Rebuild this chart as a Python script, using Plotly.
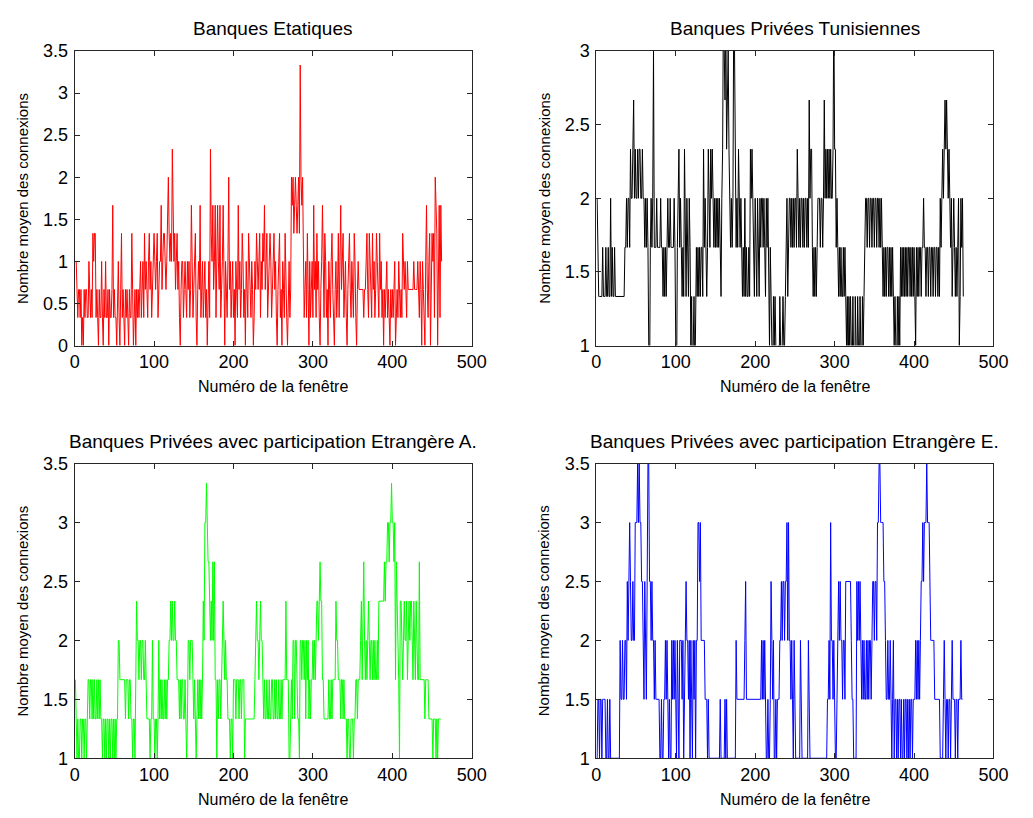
import plotly.graph_objects as go

# ---------------- data ----------------
# Banques Etatiques: mean number of connections, stored in thirds (value = n/3)
red_thirds = [
    3,3,2,1,2,2,1,2,0,1, 0,2,1,2,2,1,1,3,2,1, 2,1,4,3,4,4,1,2,1,0, 2,1,1,3,1,0,2,1,3,1,
    1,2,0,2,1,1,2,5,1,2, 1,1,0,2,3,1,0,2,4,1, 2,1,0,2,1,2,1,0,2,1, 1,4,2,0,1,2,0,2,1,2,
    1,2,3,1,2,3,1,4,2,3, 2,1,3,4,2,3,1,2,3,4, 3,2,3,4,1,2,3,3,5,2, 3,4,4,3,2,3,5,6,4,3,
    4,3,7,4,3,4,2,3,4,2, 3,1,0,2,3,3,1,2,3,2, 1,3,2,3,1,2,5,3,1,2, 3,4,1,0,2,3,2,5,1,2,
    3,1,2,3,1,2,0,2,3,1, 7,4,3,5,2,3,5,1,3,5, 3,2,5,1,2,3,5,2,0,3, 2,1,3,6,2,3,1,2,3,1,
    2,0,3,2,1,5,2,3,1,2, 4,3,1,2,0,3,2,1,4,3, 2,1,3,2,0,1,3,2,4,3, 2,3,4,1,3,2,4,3,5,2,
    3,4,1,2,3,4,3,1,2,3, 4,2,3,1,0,2,3,4,1,2, 0,3,2,1,4,2,1,0,2,3, 1,2,6,5,6,4,5,6,5,4,
    5,6,4,10,6,5,6,4,1,2, 3,1,4,2,0,3,1,2,3,1, 5,2,3,1,4,2,3,1,0,2, 3,5,2,1,4,3,1,2,0,3,
    2,1,3,4,2,1,0,2,3,1, 2,4,1,3,5,2,3,4,1,2, 3,1,0,2,3,4,2,1,3,2, 1,4,3,1,0,2,3,2,2,2,
    2,2,2,1,2,2,3,4,2,1, 4,3,2,1,4,2,3,1,2,4, 3,2,1,4,2,3,1,2,0,2, 1,2,3,1,2,1,0,2,1,2,
    1,2,3,0,1,2,1,3,2,1, 2,1,4,3,2,3,2,1,3,2, 2,2,2,2,2,2,3,2,2,2, 2,3,2,1,3,2,0,3,2,1,
    0,3,5,2,1,3,4,0,2,4, 3,4,1,6,5,4,0,3,5,1, 5,3,
]

# Banques Privées Tunisiennes (thirds)
black_thirds = [
    6,5,4,4,4,4,4,5,4,4, 4,5,4,4,5,4,4,6,4,5, 4,4,5,4,4,4,4,4,4,4, 4,4,4,4,4,5,5,6,5,6,
    6,5,7,6,6,7,8,6,7,6, 6,7,6,7,7,6,6,7,6,6, 5,6,5,6,5,3,2,5,6,5, 6,9,5,5,5,6,5,5,5,5,
    6,5,5,4,5,4,5,4,5,6, 5,5,6,5,5,5,5,6,5,3, 2,5,6,7,5,6,5,4,5,4, 7,5,4,6,5,4,6,5,3,4,
    2,3,4,2,4,5,4,5,4,5, 4,5,5,4,7,5,6,5,4,5, 7,6,5,7,6,7,6,5,6,5, 6,5,6,5,6,5,4,6,7,10,
    9,8,10,7,8,9,7,6,5,6, 5,6,10,9,6,5,6,5,7,6, 5,6,5,4,5,4,6,4,5,4, 4,5,4,7,6,7,6,5,4,6,
    5,4,6,5,4,6,5,6,6,5, 6,5,4,6,5,6,4,3,5,4, 3,2,4,3,4,3,2,1,3,2,
    4,3,2,3,4,3,3,4,5,6, 4,5,6,6,5,6,5,6,5,6, 6,5,7,6,5,6,5,6,6,5, 6,5,6,6,5,6,5,8,6,7,
    7,5,4,5,4,5,4,5,6,6, 6,5,6,6,5,6,8,6,7,6, 7,6,7,6,7,6,6,7,10,7,
    7,5,6,5,4,5,4,5,4,4, 5,4,5,4,3,4,2,4,3,4, 3,2,4,3,1,4,3,2,4,3, 2,4,3,2,4,3,4,5,6,6,
    5,6,6,5,6,6,5,6,6,5, 6,6,5,6,6,5,6,5,6,5, 4,5,4,5,4,5,5,4,5,4,
    5,4,5,4,3,4,3,2,4,3, 4,3,5,4,5,4,5,4,5,4, 5,4,5,5,4,5,4,5,4,5, 4,3,5,4,5,4,5,5,4,5,
    5,6,5,5,4,5,5,4,5,5, 4,5,5,4,5,5,4,5,5,4, 5,4,6,5,6,7,6,7,8,7, 8,7,6,7,6,5,6,4,5,6,
    5,4,5,4,5,6,3,4,6,5, 6,4,
]

# Banques Privées avec participation Etrangère A. (thirds)
green_thirds = [
    5,4,3,4,3,3,4, 4,3,4,4,3,4,4,3,4, 5,5,4,5,5, 4,5,4,5,4,4,5,4,5,4,5,4,
    4,3,4,4,3,4,3,4,4,3,4,3,4,4,3,4,3,4,3,4, 4,6,6, 5,5,5,5,5,5,5,4,5,5,5,4,5,5,
    4,4,3,4,4,3, 5,7, 6,6,5,6,6,5,6,6,5,5,6,5, 4,4,4,4,3,4,4, 6, 4,4,3,4,4,3,4, 6,
    4,5,4,5,4,4,5,4,5,4,5,5, 6,6,7,6,7,6,6,7,6,6,5, 5,5,4,5,4,5,5,4,4,5,4,3,4,
    6,6,5,6,6,6,5, 4,5,4,3,4,5,4,5,4,5,4,5, 7,6,9, 9,10,9,8, 8,7,6,7,6,8,6,8,
    5,5,3,5,4,5,5,4,5, 6,7,6,5,6,5,5, 4,4,4,3,4,4,3,5, 5,5,4,5,5,5,4,5,5,4,5,5,5,3,
    4,4,4,4,4,4,4,4,4,4,4,4, 5,6,7,6,6,5,6,7,6,6,5,
    4,5,4,4,5,4,4,5,4,4,5,5,4,4,5,4,5,4,4,5,4,4,5,4,5,5,5, 5,7, 5,5,5,3,3,4,5,4,
    6,6,4,6,6,5,4,4,3,6, 6,5,6,6,5,6,4,6,5,6,4,5,4,5,5,6, 5,6,5,6,7, 7,6,7,8,7,7,
    5,5,4,4,4,4,4,4,5,4,4,5,4,5,5,5,5, 7,6,6,5, 5,5,4,5,5,4,5,4,4,
    4,3,4,4,3,3,4,4,4,3,4,4, 5,5,4,5,5,5,6, 7,5,7,8,6, 5,6,5,6,7,6,5,6,6,5,6,5,6,5,5,6,
    5,7,7,7,7,7,7,7,8,7,8, 8,9,9,8,9,9, 10,9, 9,8,9,5,8,7,6,5, 3,
    7,7,6,5,6,7,6,6,7,5,6,7,6,7,7,6,5,7,6,5,7,6,5,5,8, 5,5,5,5,5,5,4,5,5,5,5,4,
    4,4,4,4,3,4,4,4,3,4, 3,4,4,4,4,
]

# Banques Privées avec participation Etrangère E. (halves: value = n/2)
blue_halves = [
    2,3,3,2,3,3,2,3,3,3,3, 2,2,3,2,2,3,2, 2,2,2,2,2,2,2,2,2,2,2, 4,3,3,4,3, 3,4,4,3,
    5,4,5,6,5,4, 4,5,4,4, 6,6,6,7,6,7,6,6,5, 5,4,3,5,4,3, 5,7,7,5, 5,4,5,4,4,3,4,
    3,3,3,3,3,2, 2,3,2,2,3,3,4, 3,4,3,2,3,2,2, 4,3,4,3,4,3,2,4,3,2,4, 4,4,3,4,2,3,4,5,
    4,4,3,4,2,4,3,2,4,3,4,2,4,4, 6,6,5,6,4,4, 4,4,4,3,3, 3,2,3,2,2,
    2,2,2,2,2,2,2,2,2,2,2,2, 3,2, 2,2,2,2,3,2, 3,2,2, 2,2,2,2,2,2,2,2,2, 4,3,3,3,
    3,3,3,3,3,3,3,4,5, 3,3,3,3,3,3,3,3,3,3,3,3,3,3,3,3,3,3,3, 4,3,4,3,4,3, 2,2,3,2,2,3,
    5, 4,3,4,2,2,3,2,3,3, 3,4,4,5,4,5,5,4,5,5,6,4,6, 4,4,3,4,3,2,4,3,2, 2,2,2,2,2,4,3,2,
    2,2,2,2,2,2,2,4,3,2, 2,2,2,2,2,2,2,2,2,2,2,2,2,2,2,2,2,2,2,2,2,
    3,3,4,3,6,4,4, 3,4,3,2,2,3,4,5, 4,5,4,4,3,4,4,3, 5,5,5,5,5,5,5,4, 3,3,2,2,2,2,
    5,4,5,4,5,4,3,4, 3,4,3,3,4,3,4,3,4,4,3,4, 5,5,4,5,5,4, 6,6,7,7,6, 6,6,6,5,5,
    4,3,3,4,3, 3,4,3,2,3,4,2,3,
    3,2,3,2,3,3,2,3,2,2,3,2,3,3,2,3,2,3,2,3,3,2,3,3,3, 4,3,4,3,4,3,4, 5,5,6,5,6,6,6,
    7,6, 6,6,5,4,4,4,4,4, 3,3,3,3,3,3,3, 2,2,2,2,3, 4,3, 2,3,3,2,3,3,2,3, 4,3,
    3,3,2,3,3,2,3,3,3, 4,3,3,
]

red = [v / 3 for v in red_thirds]
black = [v / 3 for v in black_thirds]
green = [v / 3 for v in green_thirds]
blue = [v / 2 for v in blue_halves]

titles = [
    "Banques Etatiques",
    "Banques Privées Tunisiennes",
    "Banques Privées avec participation Etrangère A.",
    "Banques Privées avec participation Etrangère E.",
]
x_label = "Numéro de la fenêtre"
y_label = "Nombre moyen des connexions"

x_ticks = [0, 100, 200, 300, 400, 500]
y_ticks_a = [0, 0.5, 1, 1.5, 2, 2.5, 3, 3.5]
y_ticks_b = [1, 1.5, 2, 2.5, 3]
y_ticks_c = [1, 1.5, 2, 2.5, 3, 3.5]

series = [red, black, green, blue]
colors = ["#ff0000", "#000000", "#00ff00", "#0000ff"]
y_ranges = [[0, 3.5], [1, 3], [1, 3.5], [1, 3.5]]
y_tickss = [y_ticks_a, y_ticks_b, y_ticks_c, y_ticks_c]

# ---------------- layout (pixel geometry) ----------------
W, H = 1033, 818
px_x = [(71, 476), (603, 1008), (71, 476), (603, 1008)]
px_y = [(42, 344), (42, 344), (465, 767), (465, 767)]

FONT = "Liberation Sans, Arial, Helvetica, sans-serif"
fig = go.Figure()
annotations = []
layout = dict(
    width=W, height=H, autosize=False,
    margin=dict(l=0, r=0, t=0, b=0),
    paper_bgcolor="white", plot_bgcolor="white",
    showlegend=False,
    font=dict(family=FONT, color="#000000"),
)

def fmt(v):
    return ("%g" % v)

for i in range(4):
    xs = list(range(1, len(series[i]) + 1))
    sfx = "" if i == 0 else str(i + 1)
    fig.add_trace(go.Scatter(
        x=xs, y=series[i], mode="lines",
        line=dict(color=colors[i], width=1),
        xaxis="x" + sfx, yaxis="y" + sfx, hoverinfo="skip",
    ))
    x0, x1 = px_x[i]
    y0, y1 = px_y[i]
    dx = [x0 / W, x1 / W]
    dy = [1 - y1 / H, 1 - y0 / H]
    common = dict(
        showline=True, linecolor="#262626", linewidth=1, mirror="ticks",
        ticks="inside", ticklen=5, tickwidth=1, tickcolor="#262626",
        showgrid=False, zeroline=False, fixedrange=True,
        tickfont=dict(family=FONT, size=18, color="#000000"),
    )
    layout["xaxis" + sfx] = dict(
        common, domain=dx, range=[0, 500], tickvals=x_ticks,
        ticktext=[fmt(t) for t in x_ticks],
        anchor="y" + sfx,
    )
    layout["yaxis" + sfx] = dict(
        common, domain=dy, range=y_ranges[i], tickvals=y_tickss[i],
        ticktext=[fmt(t) for t in y_tickss[i]],
        anchor="x" + sfx, ticklabelstandoff=2,
    )
    cx = (x0 + x1) / 2 / W
    # subplot title
    annotations.append(dict(
        text=titles[i], x=cx, y=1 - (y0 - 23) / H, xref="paper", yref="paper",
        xanchor="center", yanchor="middle", showarrow=False,
        font=dict(family=FONT, size=19, color="#000000"),
    ))
    # x-axis title
    annotations.append(dict(
        text=x_label, x=cx, y=1 - (y1 + 42) / H, xref="paper", yref="paper",
        xanchor="center", yanchor="middle", showarrow=False,
        font=dict(family=FONT, size=16, color="#000000"),
    ))
    # y-axis title
    annotations.append(dict(
        text=y_label, x=(x0 - 53) / W, y=1 - (y0 + y1) / 2 / H,
        xref="paper", yref="paper", textangle=-90,
        xanchor="center", yanchor="middle", showarrow=False,
        font=dict(family=FONT, size=15, color="#000000"),
    ))

layout["annotations"] = annotations
fig.update_layout(**layout)
fig.write_html("out.html")
